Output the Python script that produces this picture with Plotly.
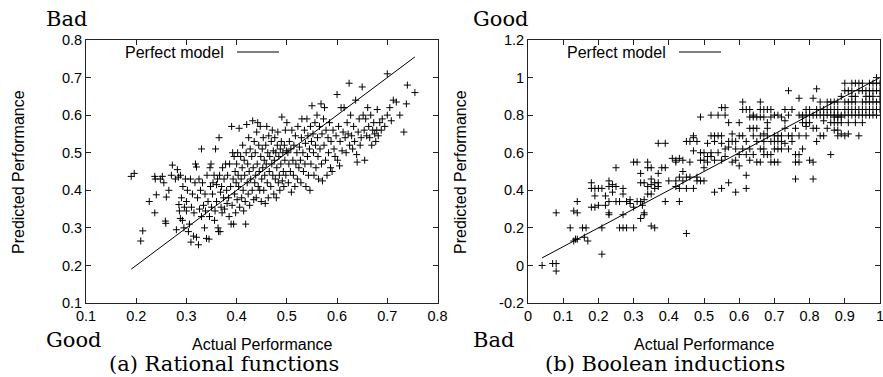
import plotly.graph_objects as go

# ---------------- data: (a) Rational functions ----------------
rat_actual = [
0.190,0.196,0.209,0.213,0.226,0.237,0.237,0.238,0.240,0.248,
0.252,0.255,0.258,0.259,0.260,0.265,0.270,0.272,0.278,0.280,0.282,0.284,0.285,0.286,0.288,0.288,0.290,0.292,0.293,0.295,0.296,0.298,0.300,0.300,
0.302,0.304,0.306,0.308,0.309,0.310,0.312,0.314,0.315,0.317,0.318,0.320,0.320,0.322,0.324,0.325,0.326,0.328,0.330,0.330,0.332,0.334,0.336,0.337,0.338,0.340,0.341,0.343,0.345,0.346,0.347,0.348,0.349,0.350,
0.352,0.353,0.355,0.356,0.357,0.358,0.360,0.360,0.362,0.363,0.364,0.365,0.366,0.367,0.368,0.369,0.370,0.371,0.372,0.374,0.375,0.376,0.378,0.380,0.381,0.382,0.384,0.385,0.386,0.388,0.389,0.390,0.391,0.392,0.393,0.394,0.395,0.396,0.397,0.398,0.399,0.400,
0.401,0.402,0.403,0.404,0.405,0.406,0.408,0.409,0.410,0.411,0.412,0.413,0.414,0.415,0.416,0.417,0.418,0.419,0.420,0.421,0.422,0.423,0.424,0.425,0.426,0.427,0.428,0.430,0.431,0.432,0.433,0.434,0.435,0.436,0.437,0.438,0.439,0.440,0.441,0.442,0.443,0.444,0.445,0.446,0.447,0.448,0.449,0.450,
0.451,0.452,0.453,0.454,0.455,0.456,0.457,0.458,0.459,0.460,0.461,0.462,0.463,0.464,0.465,0.466,0.468,0.469,0.470,0.471,0.472,0.473,0.474,0.475,0.476,0.477,0.478,0.479,0.480,0.481,0.482,0.483,0.484,0.485,0.486,0.487,0.488,0.489,0.490,0.491,0.492,0.493,0.494,0.495,0.496,0.497,0.498,0.499,0.500,
0.502,0.503,0.504,0.505,0.507,0.508,0.509,0.510,0.512,0.513,0.514,0.516,0.517,0.518,0.520,0.521,0.522,0.524,0.525,0.527,0.528,0.529,0.530,0.532,0.533,0.535,0.536,0.537,0.538,0.540,0.541,0.542,0.543,0.545,0.546,0.547,0.548,0.549,0.550,
0.552,0.553,0.554,0.556,0.557,0.558,0.560,0.561,0.562,0.563,0.565,0.566,0.568,0.569,0.570,0.571,0.573,0.574,0.575,0.577,0.578,0.580,0.582,0.583,0.585,0.587,0.588,0.590,0.592,0.594,0.596,0.598,0.600,
0.601,0.603,0.605,0.606,0.608,0.610,0.612,0.614,0.616,0.618,0.620,0.622,0.624,0.625,0.627,0.629,0.631,0.633,0.635,0.637,0.639,0.640,0.642,0.644,0.646,0.648,0.650,
0.652,0.654,0.655,0.657,0.659,0.661,0.663,0.665,0.667,0.669,0.671,0.673,0.675,0.677,0.679,0.680,0.682,0.685,0.688,0.690,0.695,0.700,0.700,
0.705,0.708,0.712,0.718,0.725,0.733,0.738,0.740,0.755]
rat_predicted = [
0.437,0.445,0.265,0.292,0.370,0.340,0.437,0.430,0.388,0.430,
0.437,0.420,0.318,0.312,0.382,0.400,0.440,0.467,0.430,0.295,0.455,0.435,0.362,0.345,0.440,0.325,0.380,0.320,0.410,0.300,0.355,0.430,0.370,0.345,
0.400,0.290,0.310,0.430,0.262,0.355,0.390,0.278,0.340,0.420,0.470,0.462,0.275,0.380,0.255,0.430,0.350,0.400,0.510,0.330,0.420,0.360,0.300,0.390,0.345,0.272,0.440,0.370,0.270,0.330,0.460,0.410,0.470,0.355,
0.390,0.420,0.440,0.320,0.345,0.510,0.370,0.415,0.430,0.300,0.290,0.540,0.440,0.290,0.395,0.355,0.410,0.340,0.460,0.380,0.430,0.350,0.470,0.400,0.365,0.440,0.380,0.330,0.470,0.410,0.310,0.570,0.360,0.500,0.430,0.310,0.490,0.390,0.450,0.340,0.420,0.470,
0.375,0.500,0.440,0.410,0.565,0.355,0.490,0.430,0.380,0.460,0.520,0.400,0.345,0.480,0.440,0.370,0.310,0.500,0.575,0.420,0.470,0.390,0.540,0.450,0.360,0.510,0.430,0.490,0.400,0.585,0.460,0.375,0.530,0.420,0.500,0.440,0.380,0.555,0.470,0.580,0.410,0.520,0.450,0.400,0.570,0.490,0.370,0.430,
0.510,0.460,0.540,0.400,0.480,0.440,0.365,0.520,0.470,0.570,0.420,0.500,0.380,0.545,0.450,0.490,0.410,0.530,0.470,0.560,0.440,0.505,0.390,0.480,0.540,0.430,0.500,0.380,0.460,0.520,0.555,0.420,0.490,0.440,0.400,0.510,0.470,0.530,0.595,0.425,0.500,0.450,0.410,0.520,0.480,0.560,0.440,0.505,0.580,
0.500,0.420,0.470,0.530,0.450,0.510,0.395,0.560,0.480,0.440,0.520,0.410,0.545,0.470,0.500,0.430,0.570,0.460,0.515,0.480,0.420,0.540,0.590,0.500,0.450,0.560,0.470,0.525,0.410,0.590,0.490,0.545,0.440,0.510,0.400,0.570,0.470,0.530,0.625,
0.550,0.500,0.440,0.580,0.520,0.460,0.600,0.540,0.490,0.430,0.570,0.510,0.630,0.470,0.550,0.425,0.590,0.520,0.620,0.480,0.560,0.440,0.540,0.500,0.580,0.460,0.530,0.450,0.560,0.510,0.490,0.545,0.655,
0.480,0.570,0.465,0.530,0.620,0.505,0.555,0.620,0.540,0.500,0.580,0.550,0.685,0.520,0.600,0.545,0.510,0.570,0.530,0.640,0.495,0.475,0.555,0.590,0.520,0.540,0.675,
0.600,0.560,0.480,0.590,0.545,0.620,0.570,0.540,0.600,0.520,0.560,0.580,0.550,0.530,0.560,0.615,0.545,0.580,0.560,0.590,0.570,0.600,0.710,
0.620,0.585,0.640,0.635,0.600,0.555,0.630,0.680,0.660]

# ---------------- data: (b) Boolean inductions ----------------
bool_actual = [
0.04,0.07,0.08,0.08,0.08,
0.12,0.13,0.135,0.14,0.13,0.14,0.14,0.155,0.165,0.16,0.17,
0.18,0.18,0.19,0.18,0.19,0.20,0.19,0.21,0.21,0.21,0.20,
0.22,0.22,0.23,0.23,0.23,0.23,0.23,0.24,0.24,0.25,0.25,0.25,0.26,0.26,0.27,0.27,0.27,0.27,0.28,0.28,0.29,0.29,0.30,0.30,0.31,0.30,0.31,0.32,0.32,0.32,0.32,0.33,0.325,0.33,0.33,0.34,0.35,0.34,0.35,0.35,0.36,0.34,0.35,0.36,0.37,0.37,0.38,0.39,0.39,0.36,0.37,0.37,0.39,0.40,0.35,0.33,0.34,
0.41,0.42,0.42,0.43,0.43,0.43,0.42,0.42,0.43,0.44,0.44,0.44,0.45,0.45,0.45,0.45,0.46,0.46,0.46,0.47,0.47,0.47,0.47,0.48,0.48,0.48,0.49,0.49,0.49,0.49,0.50,0.50,0.50,0.50,
0.51,0.51,0.51,0.52,0.52,0.52,0.52,0.53,0.53,0.53,0.53,0.54,0.54,0.54,0.55,0.56,0.55,0.55,0.55,0.55,0.56,0.56,0.56,0.57,0.57,0.57,0.57,0.58,0.58,0.58,0.59,0.59,0.59,0.59,0.60,0.60,0.60,0.60,
0.61,0.61,0.61,0.61,0.62,0.62,0.62,0.62,0.62,0.63,0.63,0.63,0.63,0.64,0.64,0.64,0.64,0.65,0.65,0.65,0.65,0.66,0.66,0.66,0.66,0.66,0.67,0.67,0.67,0.67,0.67,0.68,0.68,0.68,0.68,0.68,0.69,0.69,0.69,0.69,0.69,0.70,0.70,0.70,0.70,0.70,
0.71,0.71,0.71,0.71,0.72,0.72,0.72,0.72,0.73,0.73,0.73,0.74,0.74,0.74,0.74,0.75,0.75,0.76,0.76,0.76,0.76,0.77,0.77,0.77,0.77,0.77,0.78,0.78,0.78,0.78,0.79,0.79,0.79,0.79,0.80,0.80,0.80,0.80,
0.81,0.81,0.81,0.81,0.81,0.82,0.82,0.82,0.82,0.83,0.83,0.83,0.83,0.84,0.84,0.84,0.84,0.85,0.85,0.85,0.86,0.86,0.86,0.86,0.87,0.87,0.87,0.87,0.88,0.88,0.88,0.88,0.88,0.89,0.89,0.89,0.89,0.90,0.90,0.90,0.90,0.90,0.90,
0.91,0.91,0.91,0.91,0.91,0.92,0.92,0.92,0.92,0.93,0.93,0.93,0.93,0.93,0.94,0.94,0.94,0.94,0.94,0.95,0.95,0.95,0.95,0.95,0.96,0.96,0.96,0.96,0.97,0.97,0.97,0.97,0.98,0.98,0.98,0.98,0.99,0.99,0.99,0.99,1.00,1.00,1.00,1.00,1.00,
0.63,0.64,0.66,0.67,0.71,0.73,0.75,0.79,0.82,0.85,0.86,0.87,0.88,0.89,0.92,0.93,0.95,0.96,0.97,0.98,0.99,0.97,0.98,0.99,0.87,0.88,0.91,0.92]
bool_predicted = [
0.00,0.01,0.01,-0.03,0.28,
0.20,0.13,0.14,0.14,0.29,0.28,0.34,0.20,0.20,0.15,0.13,
0.44,0.41,0.41,0.31,0.31,0.32,0.37,0.41,0.20,0.06,0.41,
0.37,0.32,0.45,0.42,0.34,0.28,0.27,0.43,0.39,0.42,0.52,0.34,0.34,0.20,0.38,0.41,0.20,0.27,0.34,0.20,0.35,0.33,0.31,0.55,0.55,0.20,0.34,0.34,0.44,0.49,0.25,0.44,0.32,0.27,0.28,0.52,0.52,0.55,0.46,0.21,0.20,0.38,0.38,0.44,0.44,0.65,0.52,0.52,0.65,0.41,0.42,0.49,0.34,0.45,0.43,0.35,0.42,
0.57,0.55,0.56,0.57,0.47,0.34,0.42,0.45,0.41,0.45,0.56,0.50,0.66,0.47,0.17,0.41,0.47,0.66,0.55,0.61,0.69,0.68,0.41,0.66,0.45,0.47,0.79,0.60,0.45,0.56,0.56,0.52,0.60,0.45,
0.65,0.58,0.55,0.80,0.69,0.58,0.60,0.69,0.56,0.66,0.39,0.69,0.60,0.80,0.84,0.84,0.65,0.69,0.56,0.41,0.58,0.62,0.80,0.63,0.44,0.66,0.76,0.66,0.55,0.70,0.39,0.62,0.66,0.56,0.76,0.69,0.59,0.53,
0.87,0.83,0.69,0.62,0.83,0.41,0.59,0.48,0.66,0.73,0.62,0.56,0.83,0.73,0.59,0.69,0.80,0.79,0.73,0.55,0.66,0.87,0.79,0.69,0.62,0.55,0.83,0.66,0.62,0.59,0.79,0.83,0.69,0.59,0.73,0.76,0.83,0.66,0.59,0.55,0.79,0.80,0.66,0.62,0.69,0.55,
0.80,0.62,0.66,0.55,0.79,0.66,0.69,0.62,0.77,0.65,0.83,0.93,0.69,0.62,0.80,0.83,0.66,0.46,0.59,0.55,0.73,0.89,0.55,0.69,0.80,0.59,0.79,0.76,0.62,0.80,0.80,0.76,0.69,0.74,0.56,0.80,0.83,0.76,
0.46,0.89,0.73,0.55,0.80,0.94,0.73,0.80,0.66,0.83,0.80,0.69,0.87,0.83,0.80,0.69,0.77,0.80,0.73,0.87,0.59,0.80,0.87,0.76,0.80,0.87,0.83,0.76,0.80,0.76,0.69,0.87,0.83,0.80,0.70,0.90,0.76,0.80,0.83,0.97,0.69,0.87,0.93,
0.80,0.83,0.93,0.87,0.76,0.80,0.97,0.83,0.90,0.80,0.97,0.83,0.87,0.76,0.83,0.93,0.80,0.97,0.69,0.80,0.93,0.83,0.97,0.76,0.80,0.93,0.83,0.90,0.97,0.83,0.93,0.87,0.93,0.83,0.97,0.90,0.83,0.93,0.87,1.00,0.83,0.93,0.97,0.90,0.87,
0.79,0.79,0.83,0.70,0.69,0.73,0.69,0.83,0.83,0.83,0.83,0.79,0.79,0.79,0.87,0.90,0.87,0.87,0.80,0.80,0.80,0.90,0.87,0.97,0.72,0.72,0.70,0.93]

rat_xticks = [0.1, 0.2, 0.3, 0.4, 0.5, 0.6, 0.7, 0.8]
rat_xtick_text = ["0.1", "0.2", "0.3", "0.4", "0.5", "0.6", "0.7", "0.8"]
rat_yticks = [0.1, 0.2, 0.3, 0.4, 0.5, 0.6, 0.7, 0.8]
rat_ytick_text = ["0.1", "0.2", "0.3", "0.4", "0.5", "0.6", "0.7", "0.8"]
bool_xticks = [0, 0.1, 0.2, 0.3, 0.4, 0.5, 0.6, 0.7, 0.8, 0.9, 1.0]
bool_xtick_text = ["0", "0.1", "0.2", "0.3", "0.4", "0.5", "0.6", "0.7", "0.8", "0.9", "1"]
bool_yticks = [-0.2, 0, 0.2, 0.4, 0.6, 0.8, 1.0, 1.2]
bool_ytick_text = ["-0.2", "0", "0.2", "0.4", "0.6", "0.8", "1", "1.2"]

W, H = 883, 377
SANS = "Liberation Sans, Arial, sans-serif"
SERIF = "DejaVu Serif, serif"

def px(x):
    return x / W

def py(y):
    return 1 - y / H

fig = go.Figure()

marker = dict(symbol="cross-thin", size=5, line=dict(width=1, color="#000"), color="#000")

fig.add_trace(go.Scatter(x=rat_actual, y=rat_predicted, mode="markers", marker=marker,
                         xaxis="x", yaxis="y", showlegend=False))
fig.add_trace(go.Scatter(x=[min(rat_actual), max(rat_actual)], y=[min(rat_actual), max(rat_actual)],
                         mode="lines", line=dict(color="black", width=1), xaxis="x", yaxis="y", showlegend=False))
fig.add_trace(go.Scatter(x=bool_actual, y=bool_predicted, mode="markers", marker=marker,
                         xaxis="x2", yaxis="y2", showlegend=False))
fig.add_trace(go.Scatter(x=[min(bool_actual), max(bool_actual)], y=[min(bool_actual), max(bool_actual)],
                         mode="lines", line=dict(color="black", width=1), xaxis="x2", yaxis="y2", showlegend=False))

axis_common = dict(showgrid=False, zeroline=False, showline=True, linecolor="#222", linewidth=1,
                   mirror="ticks", ticks="inside", ticklen=5, tickwidth=1, tickcolor="#222",
                   ticklabeloverflow="allow", automargin=False,
                   tickfont=dict(family=SANS, size=14.5, color="black"), tickmode="array")

y_dom = [py(303), py(40)]
fig.update_layout(
    width=W, height=H, autosize=False, showlegend=False,
    margin=dict(l=0, r=0, t=0, b=0, pad=0, autoexpand=False),
    paper_bgcolor="white", plot_bgcolor="white",
    xaxis=dict(domain=[px(86), px(437.5)], range=[0.1, 0.8], tickvals=rat_xticks, ticktext=rat_xtick_text,
               anchor="y", **axis_common),
    yaxis=dict(domain=y_dom, range=[0.1, 0.8], tickvals=rat_yticks, ticktext=rat_ytick_text,
               anchor="x", **axis_common),
    xaxis2=dict(domain=[px(528), px(880)], range=[0, 1], tickvals=bool_xticks, ticktext=bool_xtick_text,
                anchor="y2", **axis_common),
    yaxis2=dict(domain=y_dom, range=[-0.2, 1.2], tickvals=bool_yticks, ticktext=bool_ytick_text,
                anchor="x2", **axis_common),
)

ann = []
def text(x, y, s, font, size, xanchor="center", yanchor="middle", angle=0):
    ann.append(dict(x=px(x), y=py(y), xref="paper", yref="paper", text=s, showarrow=False,
                    xanchor=xanchor, yanchor=yanchor, textangle=angle,
                    font=dict(family=font, size=size, color="black")))

# panel a
text(44, 19, "Bad", SERIF, 21, xanchor="left")
text(44, 340, "Good", SERIF, 21, xanchor="left")
text(224, 364, "(a) Rational functions", SERIF, 21)
text(262, 344, "Actual Performance", SANS, 16)
text(18, 172, "Predicted Performance", SANS, 16, angle=-90)
text(226, 52, "Perfect model", SANS, 16, xanchor="right")
# panel b
text(471, 19, "Good", SERIF, 21, xanchor="left")
text(471, 340, "Bad", SERIF, 21, xanchor="left")
text(665, 364, "(b) Boolean inductions", SERIF, 21)
text(704, 344, "Actual Performance", SANS, 16)
text(460, 172, "Predicted Performance", SANS, 16, angle=-90)
text(668, 52, "Perfect model", SANS, 16, xanchor="right")
fig.update_layout(annotations=ann)

# legend samples ("Perfect model" line key, gnuplot style: text then line)
fig.update_layout(shapes=[
    dict(type="line", xref="paper", yref="paper", x0=px(237), x1=px(279), y0=py(52), y1=py(52),
         line=dict(color="black", width=1)),
    dict(type="line", xref="paper", yref="paper", x0=px(679), x1=px(721), y0=py(52), y1=py(52),
         line=dict(color="black", width=1)),
])

fig.write_html("out.html", config={"displayModeBar": False},
               post_script="document.body.style.margin='0px';document.body.style.overflow='hidden';")
